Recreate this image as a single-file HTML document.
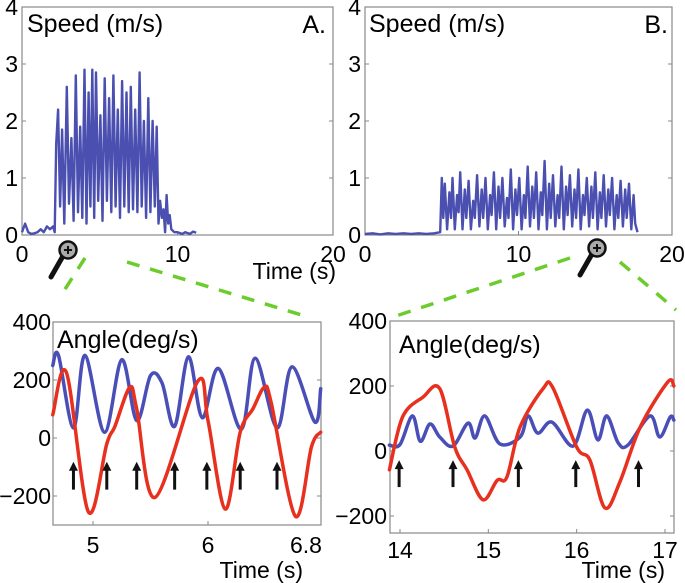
<!DOCTYPE html>
<html><head><meta charset="utf-8"><style>
html,body{margin:0;padding:0;background:#fff}
svg{display:block;font-family:"Liberation Sans",Arial,sans-serif}
</style></head><body>
<svg id="fig" width="685" height="583" viewBox="0 0 685 583"></svg>
<script>
const speedA_t=[0,0.2,0.4,0.6,0.8,1.0,1.2,1.4,1.6,1.8,2.0,2.1,2.2,2.32,2.45,2.58,2.72,2.88,3.02,3.18,3.32,3.46,3.6,3.74,3.88,4.02,4.15,4.28,4.4,4.52,4.64,4.76,4.9,5.04,5.18,5.32,5.46,5.6,5.74,5.88,6.02,6.16,6.3,6.44,6.58,6.72,6.86,7.0,7.14,7.28,7.42,7.56,7.7,7.84,7.98,8.12,8.26,8.4,8.54,8.66,8.78,8.88,9.0,9.1,9.2,9.3,9.4,9.5,9.6,9.8,10,10.3,10.5,10.8,11.0,11.2];
const speedA_v=[0.05,0.2,0.05,0.02,0.03,0.05,0.1,0.05,0.15,0.1,0.15,0.05,1.6,2.2,0.5,1.85,0.2,2.6,0.55,1.7,0.25,2.8,0.4,1.9,0.3,2.9,0.2,2.5,0.5,2.9,0.3,2.85,0.6,2.1,0.25,2.75,0.6,2.4,0.4,2.8,0.5,2.2,0.3,2.7,0.5,2.5,0.4,2.6,0.45,2.2,0.4,2.85,0.5,2.0,0.3,2.4,0.4,2.0,0.5,1.9,0.2,0.6,0.3,0.45,0.05,0.7,0.2,0.35,0.1,0.05,0.05,0.02,0.05,0.02,0.06,0.04];
const speedB_t=[0,0.5,1,1.5,2,2.5,3,3.5,4,4.5,4.9,5.0,5.1,5.2,5.35,5.5,5.6,5.7,5.85,6.0,6.1,6.2,6.35,6.5,6.6,6.75,6.9,7.05,7.15,7.3,7.45,7.6,7.7,7.85,8.0,8.15,8.25,8.4,8.55,8.7,8.8,8.95,9.1,9.25,9.35,9.5,9.65,9.8,9.9,10.05,10.2,10.35,10.45,10.6,10.75,10.9,11.0,11.15,11.3,11.45,11.55,11.7,11.85,12.0,12.1,12.25,12.4,12.55,12.65,12.8,12.95,13.1,13.2,13.35,13.5,13.65,13.75,13.9,14.05,14.2,14.3,14.45,14.6,14.75,14.85,15.0,15.15,15.3,15.4,15.55,15.7,15.85,15.95,16.1,16.25,16.4,16.5,16.65,16.8,16.95,17.05,17.2,17.35,17.5,17.6,17.75];
const speedB_v=[0.02,0.03,0.01,0.03,0.02,0.03,0.02,0.03,0.02,0.03,0.05,1.0,0.3,0.9,0.1,0.75,0.3,1.0,0.1,0.7,0.4,1.1,0.1,0.8,0.3,0.95,0.1,0.6,0.3,1.05,0.15,0.8,0.3,1.0,0.1,0.7,0.35,1.1,0.1,0.85,0.3,1.0,0.15,0.65,0.3,1.15,0.1,0.8,0.35,1.0,0.1,0.7,0.3,1.2,0.15,0.85,0.3,1.1,0.1,0.75,0.35,1.3,0.1,0.9,0.3,1.05,0.15,0.7,0.3,1.2,0.1,0.85,0.35,1.05,0.15,0.8,0.3,1.15,0.1,0.7,0.35,1.0,0.15,0.85,0.3,1.1,0.1,0.75,0.3,1.05,0.15,0.8,0.35,1.0,0.1,0.7,0.3,0.95,0.15,0.8,0.3,0.9,0.1,0.7,0.2,0.05];
const angA_rt=[4.65,4.77,4.96,5.12,5.19,5.32,5.38,5.54,5.91,6.0,6.15,6.28,6.39,6.49,6.55,6.76,6.9,6.98];
const angA_rv=[80,225,-255,-20,40,175,100,-205,195,60,-245,20,100,175,120,-270,-30,20];
const angA_bt=[4.65,4.70,4.83,4.93,5.10,5.25,5.38,5.5,5.6,5.71,5.83,5.95,6.09,6.29,6.41,6.6,6.73,6.93,6.98];
const angA_bv=[250,285,35,285,20,270,60,215,190,40,280,70,240,30,275,35,245,55,170];
const arrowsA=[4.83,5.12,5.38,5.71,5.99,6.28,6.60];
const angB_rt=[13.88,14.03,14.26,14.45,14.62,14.76,14.94,15.10,15.21,15.36,15.62,15.73,16.0,16.15,16.32,16.49,16.72,17.03,17.1];
const angB_rv=[-58,105,166,192,12,-58,-150,-90,-80,74,192,195,12,-28,-175,-95,74,212,200];
const angB_bt=[13.88,14.0,14.14,14.23,14.34,14.45,14.6,14.77,14.85,14.96,15.13,15.36,15.45,15.56,15.72,15.96,16.12,16.24,16.34,16.47,16.58,16.83,16.94,17.06,17.1];
const angB_bv=[18,20,108,30,83,43,15,86,40,108,22,43,108,55,89,15,126,34,108,25,18,108,43,105,95];
const arrowsB=[13.99,14.6,15.34,15.99,16.7];

const NS="http://www.w3.org/2000/svg";
const svg=document.getElementById('fig');
function mk(tag,attrs,parent){const e=document.createElementNS(NS,tag);for(const k in attrs)e.setAttribute(k,attrs[k]);(parent||svg).appendChild(e);return e;}
function lin(d0,d1,r0,r1){return v=>r0+(v-d0)*(r1-r0)/(d1-d0);}
function txt(x,y,s,size,anchor,name){const t=mk('text',{x:x,y:y,'font-size':size,'text-anchor':anchor||'start',fill:'#000'});t.textContent=s;


return t;}
function frame(x0,y0,x1,y1,name){const r=mk('rect',{x:x0,y:y0,width:x1-x0,height:y1-y0,fill:'none',stroke:'#888','stroke-width':1.2});

}
function poly(ts,vs,X,Y,color,w,name){const p=mk('polyline',{points:ts.map((t,i)=>X(t).toFixed(1)+','+Y(vs[i]).toFixed(1)).join(' '),fill:'none',stroke:color,'stroke-width':w,'stroke-linejoin':'round'});

}
function spline(ts,vs,X,Y,color,w,name){const P=ts.map((t,i)=>[X(t),Y(vs[i])]);let d='M'+P[0][0]+','+P[0][1];
for(let i=0;i<P.length-1;i++){const p0=P[i-1]||P[i],p1=P[i],p2=P[i+1],p3=P[i+2]||P[i+1];
const c1=[p1[0]+(p2[0]-p0[0])/6,p1[1]+(p2[1]-p0[1])/6],c2=[p2[0]-(p3[0]-p1[0])/6,p2[1]-(p3[1]-p1[1])/6];
d+=' C'+c1[0].toFixed(1)+','+c1[1].toFixed(1)+' '+c2[0].toFixed(1)+','+c2[1].toFixed(1)+' '+p2[0].toFixed(1)+','+p2[1].toFixed(1);}
const p=mk('path',{d:d,fill:'none',stroke:color,'stroke-width':w,'stroke-linecap':'round'});

}
function yticks(vals,x0,x1,Y,lx,name){vals.forEach(v=>{mk('line',{x1:x0,y1:Y(v),x2:x0+4,y2:Y(v),stroke:'#888'});mk('line',{x1:x1,y1:Y(v),x2:x1-4,y2:Y(v),stroke:'#888'});
txt(lx,Y(v)+8,String(v).replace('-','\u2212'),23,'end',name);});}
function arrow(x,yb,yt,name){const g=mk('g',{});


mk('line',{x1:x,y1:yb,x2:x,y2:yt+7,stroke:'#111','stroke-width':3},g);
mk('polygon',{points:(x-4.5)+','+(yt+9)+' '+x+','+yt+' '+(x+4.5)+','+(yt+9),fill:'#111'},g);}

// Panel A top
{const X=lin(0,20,22,333),Y=lin(0,4,235,7);
frame(22,7,333,235,'speed-a-frame');
yticks([0,1,2,3,4],22,333,Y,18,'speed-a-y-tick');
[0,10,20].forEach(v=>{mk('line',{x1:X(v),y1:235,x2:X(v),y2:231,stroke:'#888'});txt(X(v),262,String(v),23,'middle','speed-a-x-tick');});
poly(speedA_t,speedA_v,X,Y,'#4a4fb0',2.4,'speed-a-line');
txt(27,32,'Speed (m/s)',25,'start','speed-a-title');txt(326,33,'A.',25,'end','panel-a-label');
txt(336,279,'Time (s)',23,'end','speed-a-x-title');}
// Panel B top
{const X=lin(0,20,365,672),Y=lin(0,4,235,7);
frame(365,7,672,235,'speed-b-frame');
yticks([0,1,2,3,4],365,672,Y,361,'speed-b-y-tick');
[0,10,20].forEach(v=>{mk('line',{x1:X(v),y1:235,x2:X(v),y2:231,stroke:'#888'});txt(X(v),262,String(v),23,'middle','speed-b-x-tick');});
poly(speedB_t,speedB_v,X,Y,'#4a4fb0',2.4,'speed-b-line');
txt(369,32,'Speed (m/s)',25,'start','speed-b-title');txt(668,33,'B.',25,'end','panel-b-label');}
// Bottom left
{const X=lin(5,6,93,208),Y=lin(0,200,438,380);
frame(53,322,321,525,'angle-a-frame');
yticks([400,200,0,-200],53,321,Y,51,'angle-a-y-tick');
[[5,'5'],[6,'6']].forEach(a=>{mk('line',{x1:X(a[0]),y1:525,x2:X(a[0]),y2:521,stroke:'#888'});txt(X(a[0]),553,a[1],23,'middle','angle-a-x-tick');});
txt(306,553,'6.8',23,'middle','angle-a-x-tick');
spline(angA_bt,angA_bv,X,Y,'#4a4fb8',3.5,'angle-a-blue-line');
spline(angA_rt,angA_rv,X,Y,'#e8301e',3.5,'angle-a-red-line');
arrowsA.forEach(t=>arrow(X(t),Y(-178),Y(-82),'event-arrow'));
txt(57,348,'Angle(deg/s)',25,'start','angle-a-title');
txt(303,578,'Time (s)',23,'end','angle-a-x-title');}
// Bottom right
{const X=lin(14,17,400,665),Y=lin(0,200,451,386);
frame(390,321,674,533,'angle-b-frame');
yticks([400,200,0,-200],390,674,Y,387,'angle-b-y-tick');
[14,15,16,17].forEach(v=>{mk('line',{x1:X(v),y1:533,x2:X(v),y2:529,stroke:'#888'});txt(X(v),558,String(v),23,'middle','angle-b-x-tick');});
spline(angB_bt,angB_bv,X,Y,'#4a4fb8',3.5,'angle-b-blue-line');
spline(angB_rt,angB_rv,X,Y,'#e8301e',3.5,'angle-b-red-line');
arrowsB.forEach(t=>arrow(X(t),Y(-111),Y(-28),'event-arrow'));
txt(399,353,'Angle(deg/s)',25,'start','angle-b-title');
txt(665,578,'Time (s)',23,'end','angle-b-x-title');}
// zoom connectors
[[85,258,60,297],[127,262,305,316],[570,258,390,318],[620,262,676,310]].forEach(c=>{const l=mk('line',{x1:c[0],y1:c[1],x2:c[2],y2:c[3],stroke:'#6ccc2c','stroke-width':3.5,'stroke-dasharray':'13,11'});

});
function magnifier(cx,cy,name){const g=mk('g',{});


mk('line',{x1:cx-5,y1:cy+6,x2:cx-17,y2:cy+27,stroke:'#111','stroke-width':5,'stroke-linecap':'round'},g);
mk('circle',{cx:cx,cy:cy,r:8.5,fill:'#aaa',stroke:'#111','stroke-width':2.5},g);
mk('line',{x1:cx-4,y1:cy,x2:cx+4,y2:cy,stroke:'#111','stroke-width':2},g);
mk('line',{x1:cx,y1:cy-4,x2:cx,y2:cy+4,stroke:'#111','stroke-width':2},g);}
magnifier(68,250,'magnifier-a');magnifier(597,248,'magnifier-b');
</script>
</body></html>
